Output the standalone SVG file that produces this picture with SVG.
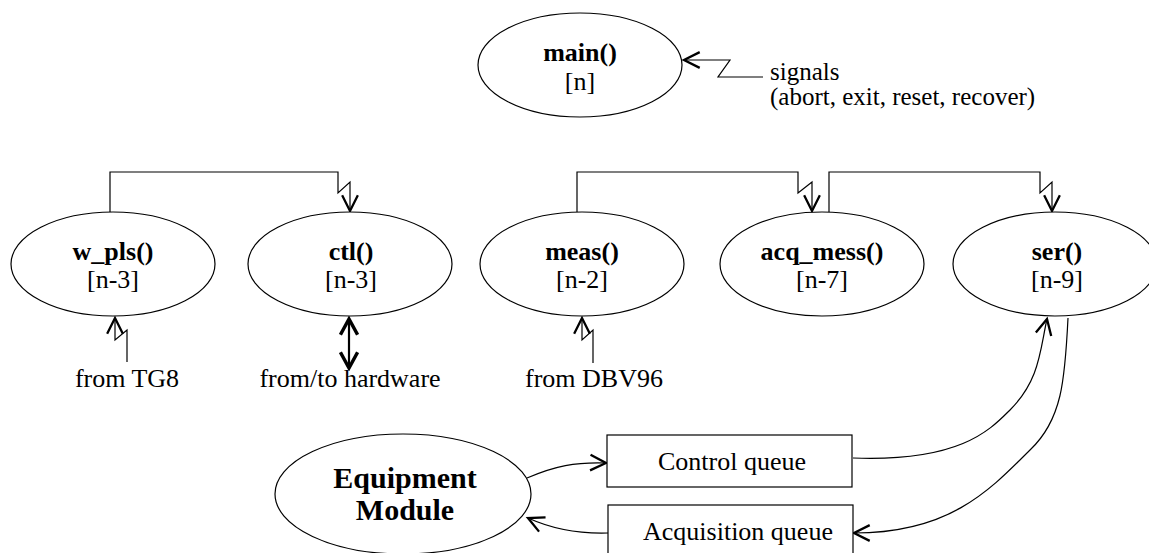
<svg xmlns="http://www.w3.org/2000/svg" width="1149" height="553" viewBox="0 0 1149 553">
<style>
.n{fill:#fff;stroke:#000;stroke-width:1.2}
text{font-family:"Liberation Serif","Liberation Sans",serif;fill:#000}
.t{font-size:26px;text-anchor:middle}
.b{font-weight:bold}
.l{font-size:25px}
.c{fill:none;stroke:#000;stroke-width:1.2}
.thick{fill:none;stroke:#000;stroke-width:2.2}
</style>
<defs>
<marker id="ah" markerUnits="userSpaceOnUse" markerWidth="20" markerHeight="20" viewBox="-12 -7 14 14" refX="0" refY="0" orient="auto-start-reverse">
<path d="M-11,-5.5 L0,0 L-11,5.5" fill="none" stroke="#000" stroke-width="1.6"/>
</marker>
<marker id="ahb" markerUnits="userSpaceOnUse" markerWidth="20" markerHeight="20" viewBox="-12 -7 14 14" refX="0" refY="0" orient="auto-start-reverse">
<path d="M-11,-6 L0,0 L-11,6" fill="none" stroke="#000" stroke-width="2.4"/>
</marker>
</defs>
<g id="connectors">
<path class="c" d="M763,77 L718,77 L730,60 L684,60" marker-end="url(#ah)"/>
<path class="c" d="M110,212 L110,172 L338,172 L338,193 L350,182 L350,211" marker-end="url(#ah)"/>
<path class="c" d="M577,212 L577,172 L798,172 L798,193 L812,182 L812,211" marker-end="url(#ah)"/>
<path class="c" d="M829,212 L829,172 L1040,172 L1040,193 L1052,182 L1052,211" marker-end="url(#ah)"/>
<path class="c" d="M127,362 L127,330 L115,340 L115,318" marker-end="url(#ah)"/>
<path class="thick" d="M349,319 L349,368" marker-start="url(#ahb)" marker-end="url(#ahb)"/>
<path class="c" d="M593,363 L593,330 L582,340 L582,318" marker-end="url(#ah)"/>
<path class="c" d="M527,478 C555,466 575,462 606,463" marker-end="url(#ah)"/>
<path class="c" d="M608,533 C575,534 550,528 528,518" marker-end="url(#ah)"/>
<path class="c" d="M853,458 C960,462 990,430 1010,410 C1040,380 1040,350 1047,319" marker-end="url(#ah)"/>
<path class="c" d="M1068,318 C1065,380 1062,420 1030,450 C990,490 950,533 854,533" marker-end="url(#ah)"/>
</g>
<g id="main">
<ellipse class="n" cx="580" cy="65" rx="102" ry="52"/>
<text class="t b" x="580" y="61">main()</text>
<text class="t" x="580" y="90">[n]</text>
</g>
<g id="signals">
<text class="l" x="770" y="80">signals</text>
<text class="l" x="770" y="105">(abort, exit, reset, recover)</text>
</g>
<g id="w_pls">
<ellipse class="n" cx="113" cy="264" rx="102" ry="52"/>
<text class="t b" x="113" y="260">w_pls()</text>
<text class="t" x="113" y="288">[n-3]</text>
</g>
<g id="ctl">
<ellipse class="n" cx="350" cy="264" rx="102" ry="52"/>
<text class="t b" x="351" y="260">ctl()</text>
<text class="t" x="351" y="288">[n-3]</text>
</g>
<g id="meas">
<ellipse class="n" cx="582" cy="264" rx="102" ry="52"/>
<text class="t b" x="582" y="260">meas()</text>
<text class="t" x="582" y="288">[n-2]</text>
</g>
<g id="acq_mess">
<ellipse class="n" cx="822" cy="264" rx="102" ry="52"/>
<text class="t b" x="822" y="260">acq_mess()</text>
<text class="t" x="822" y="288">[n-7]</text>
</g>
<g id="ser">
<ellipse class="n" cx="1055" cy="264" rx="102" ry="52"/>
<text class="t b" x="1057" y="260">ser()</text>
<text class="t" x="1057" y="288">[n-9]</text>
</g>
<g id="from_tg8"><text class="t" x="127" y="387">from TG8</text></g>
<g id="from_hw"><text class="t" x="350" y="387">from/to hardware</text></g>
<g id="from_dbv"><text class="t" x="594" y="387">from DBV96</text></g>
<g id="equipment">
<ellipse class="n" cx="403" cy="494" rx="128" ry="60"/>
<text class="t b" x="405" y="488" style="font-size:30px">Equipment</text>
<text class="t b" x="405" y="520" style="font-size:30px">Module</text>
</g>
<g id="control_queue">
<rect class="n" x="607" y="435" width="245" height="52"/>
<text class="t" x="732" y="470">Control queue</text>
</g>
<g id="acq_queue">
<rect class="n" x="608" y="505" width="245" height="60"/>
<text class="t" x="738" y="540">Acquisition queue</text>
</g>
</svg>
